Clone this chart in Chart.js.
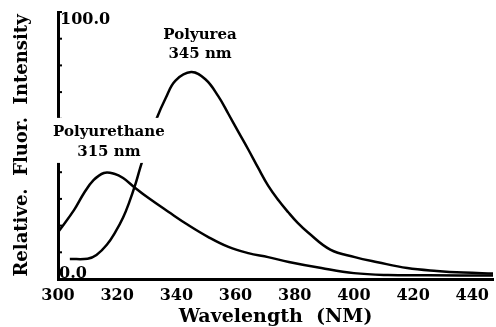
<!DOCTYPE html>
<html>
<head>
<meta charset="utf-8">
<script src="https://cdn.jsdelivr.net/npm/chart.js@4.4.0/dist/chart.umd.min.js"></script>
<style>
  html, body { margin: 0; padding: 0; background: #fff; }
  #wrap { width: 496px; height: 327px; position: relative; }
</style>
</head>
<body>
<div id="wrap"><canvas id="spectra"></canvas></div>
<script>
// emission spectra (wavelength nm, relative intensity)
var polyurethaneNm  = [300, 305.4, 308.8, 312, 315.5, 319, 322, 326, 330.6, 337.4, 344, 350.8, 357.6, 364.3, 371, 378, 389, 400, 411.5, 425, 447];
var polyurethaneVal = [17.5, 25.8, 32.2, 37, 39.7, 39.4, 37.8, 34.2, 30.3, 25.1, 20.2, 15.7, 12, 9.7, 8.2, 6.4, 4.1, 2.2, 1.5, 1.4, 1.3];

var polyureaNm  = [304, 310, 313, 316.5, 319.5, 322, 324, 326.3, 328, 330.5, 333.3, 336.4, 339.7, 345, 349.8, 354.2, 357.6, 361, 364.3, 367.7, 371, 374.5, 377.8, 381, 384.5, 392, 400.3, 408, 418, 428, 437, 447];
var polyureaVal = [7.5, 7.6, 9, 12.8, 17.8, 23, 28.5, 36, 42.5, 51, 60, 67.8, 74.3, 77.5, 74.8, 68.4, 61.8, 55, 48.5, 41.5, 35, 29.5, 25, 21, 17.4, 11, 8.2, 6.3, 4.1, 3, 2.4, 2.1];

var xTicks = [300, 320, 340, 360, 380, 400, 420, 440];
var yTickValues = [0, 100];
var yTickLabels = ['0.0', '100.0'];

// peak annotations: text lines, anchor wavelength, and a value per line
var peakNotes = [
  { lines: ['Polyurea', '345 nm'], nm: 348, vals: [91.4, 84.3], box: false },
  { lines: ['Polyurethane', '315 nm'], nm: 317.2, vals: [55.1, 47.6], box: true }
];

var FONT = '"DejaVu Serif", serif';

function toPoints(xs, ys) {
  return xs.map(function (x, i) { return { x: x, y: ys[i] }; });
}

var axisMarks = {
  id: 'axisMarks',
  afterDatasetsDraw: function (chart) {
    var ctx = chart.ctx;
    var ys = chart.scales.y, xs = chart.scales.x;
    var left = chart.chartArea.left;
    ctx.save();
    // inward tick marks on the intensity axis
    ctx.strokeStyle = '#000';
    ctx.lineWidth = 2;
    ys.ticks.forEach(function (t) {
      var py = ys.getPixelForValue(t.value);
      ctx.beginPath();
      ctx.moveTo(left, py);
      ctx.lineTo(left + 4, py);
      ctx.stroke();
    });
    // end labels drawn inside the plot
    ctx.fillStyle = '#000';
    ctx.font = 'bold 16px ' + FONT;
    ctx.textAlign = 'left';
    yTickValues.forEach(function (v, i) {
      var py = ys.getPixelForValue(v);
      if (v === 0) {
        ctx.textBaseline = 'alphabetic';
        ctx.fillText(yTickLabels[i], left + 1, py - 1);
      } else {
        ctx.textBaseline = 'top';
        ctx.fillText(yTickLabels[i], left + 2, py);
      }
    });
    // peak notes
    ctx.font = 'bold 15px ' + FONT;
    ctx.textAlign = 'center';
    ctx.textBaseline = 'middle';
    peakNotes.forEach(function (n) {
      var px = xs.getPixelForValue(n.nm);
      var pys = n.vals.map(function (v) { return ys.getPixelForValue(v); });
      if (n.box) {
        var w = 0;
        n.lines.forEach(function (s) { w = Math.max(w, ctx.measureText(s).width); });
        ctx.fillStyle = '#fff';
        ctx.fillRect(px - w / 2 - 3, pys[0] - 14, w + 6, pys[pys.length - 1] - pys[0] + 25);
        ctx.fillStyle = '#000';
      }
      n.lines.forEach(function (s, i) { ctx.fillText(s, px, pys[i]); });
    });
    ctx.restore();
  }
};

new Chart(document.getElementById('spectra'), {
  type: 'line',
  data: {
    datasets: [{
      label: 'Polyurethane',
      data: toPoints(polyurethaneNm, polyurethaneVal),
      borderColor: '#000',
      borderWidth: 2.5,
      pointRadius: 0,
      fill: false,
      tension: 0.4
    }, {
      label: 'Polyurea',
      data: toPoints(polyureaNm, polyureaVal),
      borderColor: '#000',
      borderWidth: 2.5,
      pointRadius: 0,
      fill: false,
      tension: 0.4
    }]
  },
  options: {
    responsive: true,
    maintainAspectRatio: false,
    animation: false,
    layout: { padding: { top: 12, right: 0, left: 0, bottom: 0 } },
    plugins: { legend: { display: false }, tooltip: { enabled: false } },
    scales: {
      x: {
        type: 'linear',
        min: 300,
        max: 447,
        afterBuildTicks: function (scale) {
          scale.ticks = xTicks.map(function (v) { return { value: v }; });
        },
        afterFit: function (scale) { scale.height = 48; },
        grid: { display: true, drawOnChartArea: false, drawTicks: false },
        border: { color: '#000', width: 3 },
        ticks: {
          color: '#000',
          padding: 7,
          maxRotation: 0,
          font: { family: FONT, size: 16, weight: 'bold' }
        },
        title: {
          display: true,
          text: 'Wavelength  (NM)',
          color: '#000',
          padding: { top: 2, bottom: 0 },
          font: { family: FONT, size: 19, weight: 'bold', lineHeight: 1.0 }
        }
      },
      y: {
        min: 0,
        max: 100,
        afterFit: function (scale) { scale.width = 58; },
        grid: { display: true, drawOnChartArea: false, drawTicks: false },
        border: { color: '#000', width: 3 },
        ticks: { display: false, stepSize: 10 },
        title: {
          display: true,
          text: 'Relative.  Fluor.  Intensity',
          color: '#000',
          padding: { top: 12, bottom: 0 },
          font: { family: FONT, size: 18, weight: 'bold' }
        }
      }
    }
  },
  plugins: [axisMarks]
});
</script>
</body>
</html>
